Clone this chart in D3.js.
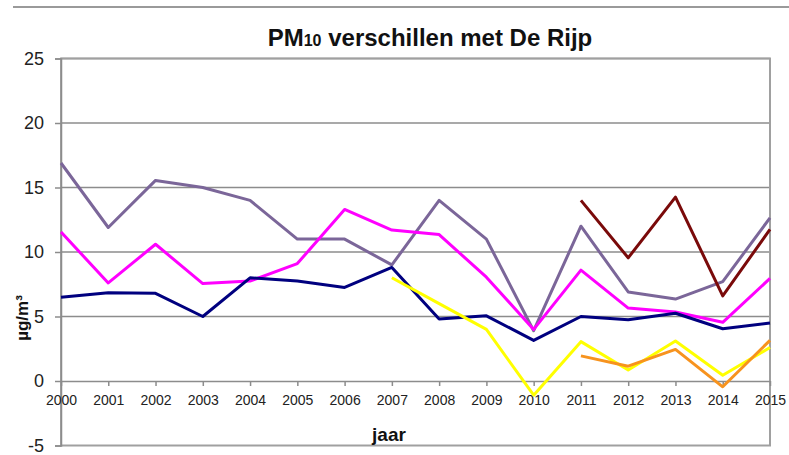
<!DOCTYPE html>
<html>
<head>
<meta charset="utf-8">
<script src="https://cdn.jsdelivr.net/npm/d3@7"></script>
<style>
  body { margin: 0; background: #fff; }
  svg { font-family: "Liberation Sans", Arial, sans-serif; }
  .axis path, .axis line { stroke: #8c8c8c; }
  .axis text { fill: #222; }
</style>
</head>
<body>
<svg width="789" height="455"></svg>
<script>
const years = d3.range(2000, 2016);
const yTicks = [-5, 0, 5, 10, 15, 20, 25];

// one array per station, null where no measurement
const purple = [16.9, 11.9, 15.55, 15.0, 14.0, 11.0, 11.0, 9.0, 14.0, 11.0, 3.9, 12.0, 6.9, 6.35, 7.7, 12.65];
const magenta = [11.55, 7.6, 10.6, 7.55, 7.75, 9.1, 13.3, 11.7, 11.35, 8.05, 4.0, 8.6, 5.65, 5.35, 4.55, 7.95];
const navy = [6.5, 6.85, 6.8, 5.0, 8.0, 7.75, 7.25, 8.8, 4.8, 5.05, 3.15, 5.0, 4.75, 5.25, 4.05, 4.5];
const yellow = [null, null, null, null, null, null, null, 8.0, 6.0, 4.0, -1.1, 3.05, 0.85, 3.1, 0.45, 2.6];
const orange = [null, null, null, null, null, null, null, null, null, null, null, 1.95, 1.15, 2.45, -0.45, 3.15];
const darkred = [null, null, null, null, null, null, null, null, null, null, null, 14.0, 9.55, 14.25, 6.6, 11.75];

const series = [
  { values: purple, color: "#7b6699" },
  { values: magenta, color: "#ff00ff" },
  { values: navy, color: "#00007f" },
  { values: yellow, color: "#ffff00" },
  { values: orange, color: "#f7931e" },
  { values: darkred, color: "#7a0a0a" }
];

const svg = d3.select("svg");
const plotLeft = 61, plotRight = 770, plotTop = 58.5, plotBottom = 445.5;

const x = d3.scaleLinear().domain([2000, 2015]).range([plotLeft, plotRight]);
const y = d3.scaleLinear().domain([-5, 25]).range([plotBottom, plotTop]);

// page rule at the top
svg.append("line").attr("x1", 13).attr("x2", 789).attr("y1", 7).attr("y2", 7)
   .attr("stroke", "#9a9a9a").attr("stroke-width", 2);

// title
const title = svg.append("text").attr("x", 430).attr("y", 46)
   .attr("text-anchor", "middle").attr("font-weight", "bold").attr("font-size", 24).attr("fill", "#111");
title.append("tspan").text("PM");
title.append("tspan").attr("font-size", 16).text("10");
title.append("tspan").text(" verschillen met De Rijp");

// gridlines
svg.append("g").selectAll("line").data(yTicks.filter(d => d > -5 && d !== 0))
  .join("line")
  .attr("x1", plotLeft).attr("x2", plotRight)
  .attr("y1", d => y(d)).attr("y2", d => y(d))
  .attr("stroke", "#8c8c8c").attr("stroke-width", 1.5);

// plot border
svg.append("rect").attr("x", plotLeft).attr("y", plotTop)
   .attr("width", plotRight - plotLeft).attr("height", plotBottom - plotTop)
   .attr("fill", "none").attr("stroke", "#a0a0a0").attr("stroke-width", 2);

// y axis
const yAxis = svg.append("g").attr("class", "axis").attr("transform", `translate(${plotLeft},0)`)
  .call(d3.axisLeft(y).tickValues(yTicks).tickFormat(d => String(d)).tickSize(6).tickPadding(11));
yAxis.selectAll("path, line").attr("stroke-width", 1.5);
yAxis.selectAll("text").attr("font-size", 18).attr("fill", "#333");

// x axis at zero
const xAxis = svg.append("g").attr("class", "axis").attr("transform", `translate(0,${y(0)})`)
  .call(d3.axisBottom(x).tickValues(years).tickFormat(d => String(d)).tickSize(5).tickSizeOuter(0).tickPadding(9));
xAxis.selectAll("path, line").attr("stroke-width", 1.5);
xAxis.selectAll("text").attr("font-size", 14).attr("fill", "#333");

// axis titles
svg.append("text").attr("x", 389).attr("y", 441).attr("text-anchor", "middle")
   .attr("font-weight", "bold").attr("font-size", 19).attr("fill", "#111").text("jaar");
svg.append("text").attr("transform", "translate(28,318) rotate(-90)").attr("text-anchor", "middle")
   .attr("font-weight", "bold").attr("font-size", 17).attr("fill", "#111").text("µg/m³");

const line = d3.line()
  .defined(d => d.v !== null)
  .x(d => x(d.year))
  .y(d => y(d.v));

svg.append("g").selectAll("path").data(series)
  .join("path")
  .attr("fill", "none")
  .attr("stroke", s => s.color)
  .attr("stroke-width", 3)
  .attr("stroke-linejoin", "round")
  .attr("d", s => line(s.values.map((v, i) => ({ year: years[i], v }))));
</script>
</body>
</html>
